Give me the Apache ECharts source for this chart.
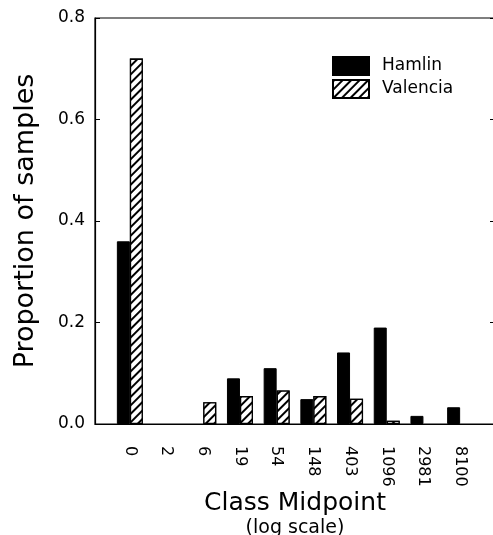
<!DOCTYPE html>
<html>
<head>
<meta charset="utf-8">
<script src="https://cdn.jsdelivr.net/npm/echarts@6/dist/echarts.min.js"></script>
<style>
  html, body { margin: 0; padding: 0; background: #fff; }
  #chart { width: 493px; height: 535px; }
</style>
</head>
<body>
<div id="chart"></div>
<script>
// class midpoints (log scale), one bar pair per class
const categories = ['0', '2', '6', '19', '54', '148', '403', '1096', '2981', '8100'];
const hamlin = [0.36, 0, 0, 0.09, 0.11, 0.049, 0.141, 0.19, 0.016, 0.033];
const valencia = [0.72, 0, 0.043, 0.055, 0.066, 0.055, 0.05, 0.0065, 0, 0];
const yTicks = [0, 0.2, 0.4, 0.6, 0.8];

const font = '"DejaVu Sans", sans-serif';
const positions = categories.map((c, i) => i);

let chart = echarts.init(document.getElementById('chart'), null, { renderer: 'canvas' });

let hatch = {
    symbol: 'rect',
    dashArrayX: [1, 0],
    dashArrayY: [1.3, 3.8],
    rotation: -Math.PI / 4,
    color: '#000',
    backgroundColor: '#fff'
};

// empty classes draw nothing
const toData = arr => arr.map((v, i) => [i, v > 0 ? v : null]);

let option = {
    animation: false,
    backgroundColor: '#fff',
    textStyle: { fontFamily: font, color: '#000' },
    grid: {
        left: 95,
        right: -2,
        top: 18,
        bottom: 111,
        outerBoundsMode: 'none',
        show: true,
        borderColor: '#000',
        borderWidth: 1.2
    },
    legend: {
        orient: 'vertical',
        left: 332,
        top: 56,
        padding: 0,
        itemWidth: 36,
        itemHeight: 18,
        itemGap: 3,
        icon: 'rect',
        textStyle: { fontFamily: font, fontSize: 17, color: '#000', padding: [0, 0, 0, 8] },
        data: ['Hamlin', 'Valencia']
    },
    xAxis: {
        type: 'value',
        min: -0.95,
        max: 9.95,
        splitLine: { show: false },
        axisLine: { show: true, onZero: false, lineStyle: { color: '#000', width: 1.2 } },
        axisTick: { show: false },
        axisLabel: {
            customValues: positions,
            rotate: -90,
            margin: 22,
            fontSize: 16,
            color: '#000',
            formatter: v => categories[Math.round(v)]
        },
        name: '{a|Class Midpoint}\n{b|(log scale)}',
        nameLocation: 'middle',
        nameGap: 65,
        nameMoveOverlap: false,
        nameTextStyle: {
            rich: {
                a: { fontFamily: font, fontSize: 25, color: '#000', lineHeight: 28 },
                b: { fontFamily: font, fontSize: 19, color: '#000', lineHeight: 22 }
            }
        }
    },
    yAxis: [
        {
            type: 'value',
            min: 0,
            max: 0.8,
            interval: 0.2,
            splitLine: { show: false },
            axisLine: { show: true, onZero: false, lineStyle: { color: '#000', width: 1.2 } },
            axisTick: { show: true, inside: true, length: 5, lineStyle: { color: '#000' } },
            axisLabel: {
                customValues: yTicks,
                margin: 10,
                fontSize: 17,
                color: '#000',
                formatter: v => v.toFixed(1)
            },
            name: 'Proportion of samples',
            nameLocation: 'middle',
            nameGap: 56,
            nameTextStyle: { fontFamily: font, fontSize: 27, color: '#000' }
        },
        {
            type: 'value',
            position: 'right',
            min: 0,
            max: 0.8,
            interval: 0.2,
            splitLine: { show: false },
            axisLine: { show: false, onZero: false },
            axisTick: { show: true, inside: true, length: 5, lineStyle: { color: '#000' } },
            axisLabel: { show: false }
        }
    ],
    series: [
        {
            name: 'Hamlin',
            type: 'bar',
            barWidth: 13,
            barGap: '0%',
            data: toData(hamlin),
            itemStyle: { color: '#000', borderColor: '#000', borderWidth: 1 }
        },
        {
            name: 'Valencia',
            type: 'bar',
            barWidth: 13,
            barGap: '0%',
            data: toData(valencia),
            itemStyle: { color: '#fff', borderColor: '#000', borderWidth: 1.3, decal: hatch }
        }
    ]
};

chart.setOption(option);
</script>
</body>
</html>
